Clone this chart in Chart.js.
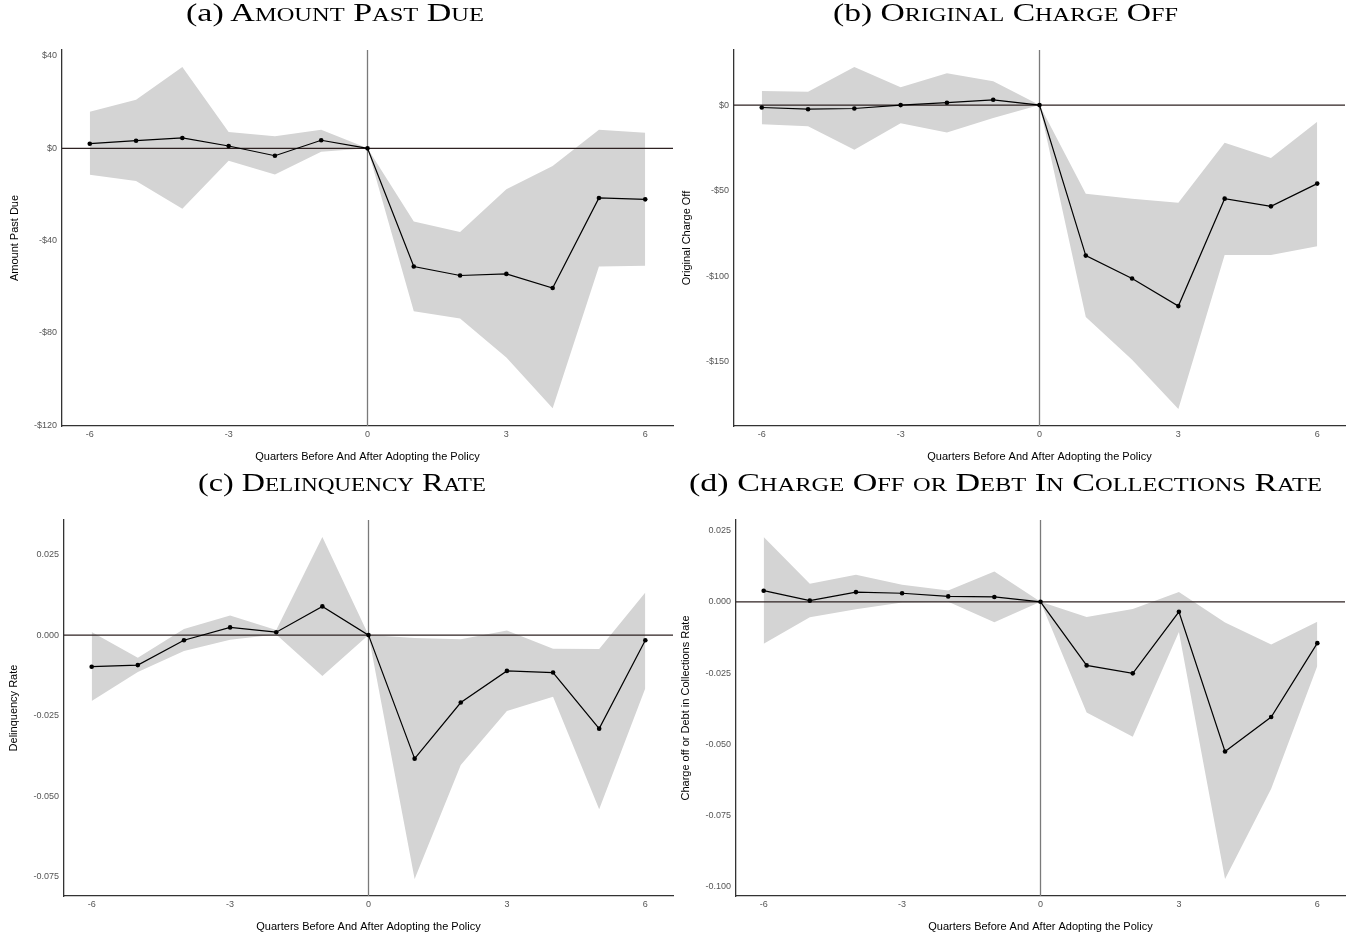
<!DOCTYPE html>
<html>
<head>
<meta charset="utf-8">
<script src="https://cdn.jsdelivr.net/npm/chart.js@4/dist/chart.umd.min.js"></script>
<style>
  html, body { margin: 0; padding: 0; background: #ffffff; }
  #page { position: relative; width: 1362px; height: 940px; overflow: hidden; }
  .panel { position: absolute; width: 681px; height: 470px; }
  .panel canvas { position: absolute; left: 0; top: 0; }
  .ptitle {
    position: absolute; white-space: nowrap; line-height: 1;
    font-family: "Liberation Serif", "DejaVu Serif", serif; font-variant: small-caps;
    font-size: 25px; color: #000; transform-origin: 0 0;
  }
  .ptitle .tag { font-variant: normal; }
</style>
</head>
<body>
<div id="page">
  <div class="panel" style="left:0px;top:0px;"><canvas id="cA" width="681" height="470"></canvas></div>
  <div class="panel" style="left:672px;top:0px;"><canvas id="cB" width="681" height="470"></canvas></div>
  <div class="panel" style="left:0px;top:470px;"><canvas id="cC" width="681" height="470"></canvas></div>
  <div class="panel" style="left:672px;top:470px;"><canvas id="cD" width="681" height="470"></canvas></div>
  <div class="ptitle" data-cx="335" data-w="298" style="top:0px"><span class="tag">(a)</span> Amount Past Due</div>
  <div class="ptitle" data-cx="1005" data-w="345" style="top:0px"><span class="tag">(b)</span> Original Charge Off</div>
  <div class="ptitle" data-cx="342" data-w="288" style="top:470px"><span class="tag">(c)</span> Delinquency Rate</div>
  <div class="ptitle" data-cx="1005" data-w="633" style="top:470px"><span class="tag">(d)</span> Charge Off or Debt In Collections Rate</div>
</div>
<script>
// Event time: quarters relative to policy adoption
const quarters = [-6, -5, -4, -3, -2, -1, 0, 1, 2, 3, 4, 5, 6];
const xTicks = [-6, -3, 0, 3, 6];
const xTickLabels = ['-6', '-3', '0', '3', '6'];

// (a) Amount past due: point estimates and confidence band
const pastDueEst = [2.0, 3.3, 4.5, 1.0, -3.2, 3.5, 0, -51.2, -55.1, -54.4, -60.5, -21.5, -22.1];
const pastDueHi  = [15.8, 21.1, 35.2, 7.1, 5.2, 8.0, 0, -31.7, -36.3, -17.7, -7.7, 8.0, 6.8];
const pastDueLo  = [-11.5, -14.2, -26.2, -5.4, -11.3, -1.5, 0, -70.6, -73.7, -90.6, -112.6, -51.2, -50.9];
const pastDueTicks = [40, 0, -40, -80, -120];
const pastDueTickLabels = ['$40', '$0', '-$40', '-$80', '-$120'];

// (b) Original charge off
const chargeOffEst = [-1.4, -2.4, -2.0, 0.0, 1.4, 3.1, 0, -88.0, -101.4, -117.5, -54.7, -59.2, -45.9];
const chargeOffHi  = [8.2, 7.8, 22.2, 10.4, 18.6, 13.9, 0, -51.8, -54.7, -57.1, -22.0, -31.0, -9.8];
const chargeOffLo  = [-11.2, -12.4, -26.1, -10.6, -16.1, -7.6, 0, -123.9, -148.8, -177.6, -87.6, -87.6, -82.5];
const chargeOffTicks = [0, -50, -100, -150];
const chargeOffTickLabels = ['$0', '-$50', '-$100', '-$150'];

// (c) Delinquency rate
const delinqEst = [-0.0098, -0.0093, -0.0016, 0.0024, 0.0009, 0.0089, 0, -0.0383, -0.0209, -0.0111, -0.0116, -0.0290, -0.0016];
const delinqHi  = [0.0010, -0.0070, 0.0019, 0.0061, 0.0016, 0.0304, 0, -0.0009, -0.0013, 0.0014, -0.0042, -0.0043, 0.0132];
const delinqLo  = [-0.0204, -0.0114, -0.0049, -0.0014, 0.0002, -0.0127, 0, -0.0756, -0.0403, -0.0235, -0.0191, -0.0540, -0.0165];
const delinqTicks = [0.025, 0, -0.025, -0.05, -0.075];
const delinqTickLabels = ['0.025', '0.000', '-0.025', '-0.050', '-0.075'];

// (d) Charge off or debt in collections rate
const collectEst = [0.0039, 0.0004, 0.0034, 0.0030, 0.0019, 0.0017, 0, -0.0223, -0.0251, -0.0035, -0.0525, -0.0404, -0.0145];
const collectHi  = [0.0227, 0.0063, 0.0095, 0.0060, 0.0040, 0.0106, 0, -0.0053, -0.0025, 0.0034, -0.0073, -0.0150, -0.0070];
const collectLo  = [-0.0147, -0.0054, -0.0026, -0.0002, 0.0000, -0.0072, 0, -0.0388, -0.0473, -0.0106, -0.0972, -0.0656, -0.0225];
const collectTicks = [0.025, 0, -0.025, -0.05, -0.075, -0.1];
const collectTickLabels = ['0.025', '0.000', '-0.025', '-0.050', '-0.075', '-0.100'];

const xTitle = 'Quarters Before And After Adopting the Policy';

// Stretch each panel heading to its set width, centred on its panel
document.querySelectorAll('.ptitle').forEach(el => {
  const w = el.getBoundingClientRect().width;
  const target = +el.dataset.w;
  const s = target / w;
  el.style.left = (+el.dataset.cx - target / 2) + 'px';
  el.style.transform = 'scaleX(' + s + ')';
});

// Reference lines at zero, drawn over the band and under the estimate line
const zeroLines = {
  id: 'zeroLines',
  afterDatasetDraw(chart, args) {
    if (args.index !== 1) return;
    const { ctx, chartArea, scales } = chart;
    const y0 = scales.y.getPixelForValue(0);
    const x0 = scales.x.getPixelForValue(0);
    ctx.save();
    ctx.lineWidth = 1.3;
    ctx.strokeStyle = '#2e2222';
    ctx.beginPath();
    ctx.moveTo(chartArea.left, y0);
    ctx.lineTo(chartArea.right, y0);
    ctx.stroke();
    ctx.strokeStyle = '#7a7a7a';
    ctx.beginPath();
    ctx.moveTo(x0, chartArea.top);
    ctx.lineTo(x0, chartArea.bottom);
    ctx.stroke();
    ctx.restore();
  }
};

function pts(vals) {
  return quarters.map((q, i) => ({ x: q, y: vals[i] }));
}

function makePanel(id, est, hi, lo, yMin, yMax, yTicks, yTickLabels, yTitle, axisWidth, titlePad) {
  new Chart(document.getElementById(id), {
    type: 'line',
    data: {
      datasets: [
        { data: pts(est), borderColor: '#000', borderWidth: 1.2, pointRadius: 2.3,
          pointBackgroundColor: '#000', pointBorderColor: '#000', pointBorderWidth: 0, fill: false, tension: 0 },
        { data: pts(hi), borderWidth: 0, pointRadius: 0, borderColor: 'rgba(0,0,0,0)',
          backgroundColor: '#d4d4d4', fill: '+1', tension: 0 },
        { data: pts(lo), borderWidth: 0, pointRadius: 0, borderColor: 'rgba(0,0,0,0)', fill: false, tension: 0 }
      ]
    },
    options: {
      responsive: false,
      animation: false,
      events: [],
      layout: { padding: { top: 50, right: 8, left: 0, bottom: 0 } },
      plugins: { legend: { display: false }, tooltip: { enabled: false } },
      scales: {
        x: {
          type: 'linear', min: -6.6, max: 6.6,
          afterBuildTicks: s => { s.ticks = xTicks.map(v => ({ value: v })); },
          afterFit: s => { s.height = 44; },
          grid: { display: false, drawTicks: false },
          border: { color: '#333', width: 1.3 },
          ticks: { padding: 3, color: '#555', font: { family: 'Liberation Sans', size: 9 },
                   callback: (v, i) => xTickLabels[i] },
          title: { display: true, text: xTitle, color: '#000', padding: { top: 0, bottom: 6 },
                   font: { family: 'Liberation Sans', size: 11 } }
        },
        y: {
          type: 'linear', min: yMin, max: yMax,
          afterBuildTicks: s => { s.ticks = yTicks.map(v => ({ value: v })); },
          afterFit: s => { s.width = axisWidth; },
          grid: { display: false, drawTicks: false },
          border: { color: '#333', width: 1.3 },
          ticks: { padding: 5, color: '#555', font: { family: 'Liberation Sans', size: 9 },
                   callback: (v, i) => yTickLabels[i] },
          title: { display: true, text: yTitle, color: '#000', padding: { top: titlePad, bottom: 0 },
                   font: { family: 'Liberation Sans', size: 11 } }
        }
      }
    },
    plugins: [zeroLines]
  });
}

makePanel('cA', pastDueEst, pastDueHi, pastDueLo, -120.3, 42.6, pastDueTicks, pastDueTickLabels, 'Amount Past Due', 62, 8);
makePanel('cB', chargeOffEst, chargeOffHi, chargeOffLo, -187.6, 32.2, chargeOffTicks, chargeOffTickLabels, 'Original Charge Off', 62, 8);
makePanel('cC', delinqEst, delinqHi, delinqLo, -0.0809, 0.0357, delinqTicks, delinqTickLabels, 'Delinquency Rate', 64, 7);
makePanel('cD', collectEst, collectHi, collectLo, -0.1032, 0.0287, collectTicks, collectTickLabels, 'Charge off or Debt in Collections Rate', 64, 7);
</script>
</body>
</html>
